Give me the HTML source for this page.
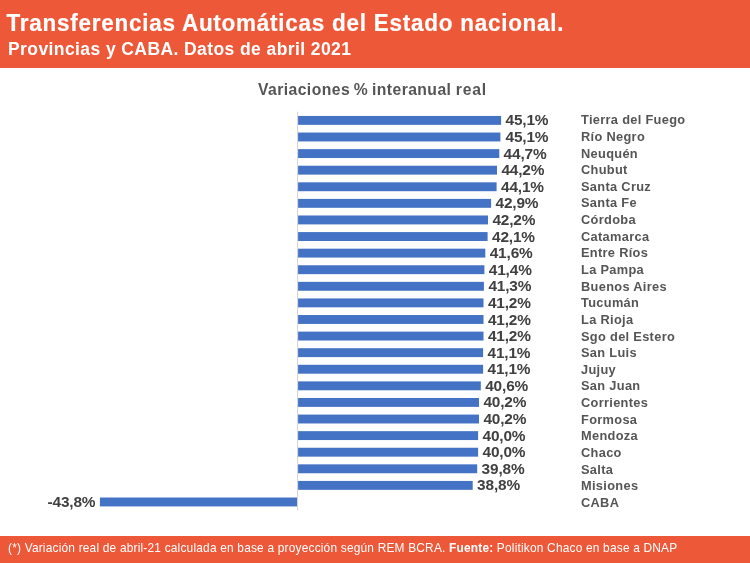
<!DOCTYPE html>
<html><head><meta charset="utf-8"><style>
html,body{margin:0;padding:0}
body{width:750px;height:563px;position:relative;overflow:hidden;background:#fff;font-family:"Liberation Sans",sans-serif}
.hd{position:absolute;left:0;top:0;width:750px;height:67.7px;background:#ed5839}
.t1{position:absolute;left:6.6px;top:9.8px;font-size:22.5px;font-weight:bold;color:#fff;white-space:nowrap;line-height:28px;letter-spacing:0.737px;-webkit-text-stroke:0.2px #fff;transform:scaleY(1.045);transform-origin:0 21.5px}
.t2{position:absolute;left:8px;top:38px;font-size:17.5px;font-weight:bold;color:#fff;white-space:nowrap;line-height:22px;letter-spacing:0.41px}
.ft{position:absolute;left:0;top:535.6px;width:750px;height:28px;background:#ed5839}
.ftt{position:absolute;left:8px;top:540.5px;font-size:11.9px;color:#fff;white-space:nowrap;line-height:14px;letter-spacing:0.2px}
.ct{position:absolute;left:258px;top:80.5px;font-size:15.7px;font-weight:bold;color:#555;line-height:18px;white-space:nowrap;letter-spacing:0.44px}
.bars{position:absolute;left:0;top:0}
.v{position:absolute;font-size:15.4px;letter-spacing:-0.15px;font-weight:bold;color:#404040;line-height:18px;white-space:nowrap}
.n{position:absolute;font-size:12.8px;font-weight:bold;color:#555;line-height:16px;white-space:nowrap;letter-spacing:0.32px}
.wrap{position:absolute;left:0;top:0;width:750px;height:563px;will-change:transform}
</style></head><body><div class="wrap">
<div class="hd"></div>
<div class="t1">Transferencias Automáticas del Estado nacional.</div>
<div class="t2">Provincias y CABA. Datos de abril 2021</div>
<div class="ct">Variaciones <span style="margin-left:-1.2px">%</span> <span style="margin-left:-0.9px">interanual</span> <span style="margin-left:-0.4px;letter-spacing:0.8px">real</span></div>
<svg class="bars" width="750" height="563" viewBox="0 0 750 563" fill="#4472c4"><rect x="297" y="111.7" width="1.1" height="398.8" fill="#d6d6d6"/><rect x="298.1" y="115.95" width="203.0" height="8.9"/><rect x="298.1" y="132.54" width="202.3" height="8.9"/><rect x="298.1" y="149.13" width="201.2" height="8.9"/><rect x="298.1" y="165.72" width="198.9" height="8.9"/><rect x="298.1" y="182.31" width="198.5" height="8.9"/><rect x="298.1" y="198.90" width="193.0" height="8.9"/><rect x="298.1" y="215.49" width="189.9" height="8.9"/><rect x="298.1" y="232.08" width="189.5" height="8.9"/><rect x="298.1" y="248.67" width="187.2" height="8.9"/><rect x="298.1" y="265.26" width="186.3" height="8.9"/><rect x="298.1" y="281.85" width="185.8" height="8.9"/><rect x="298.1" y="298.44" width="185.4" height="8.9"/><rect x="298.1" y="315.03" width="185.4" height="8.9"/><rect x="298.1" y="331.62" width="185.4" height="8.9"/><rect x="298.1" y="348.21" width="185.0" height="8.9"/><rect x="298.1" y="364.80" width="185.0" height="8.9"/><rect x="298.1" y="381.39" width="182.7" height="8.9"/><rect x="298.1" y="397.98" width="180.9" height="8.9"/><rect x="298.1" y="414.57" width="180.9" height="8.9"/><rect x="298.1" y="431.16" width="180.0" height="8.9"/><rect x="298.1" y="447.75" width="180.0" height="8.9"/><rect x="298.1" y="464.34" width="179.1" height="8.9"/><rect x="298.1" y="480.93" width="174.6" height="8.9"/><rect x="99.9" y="497.52" width="197.1" height="8.9"/></svg>
<div class="v" style="left:505.5px;top:111.4px">45,1%</div>
<div class="n" style="left:581px;top:112.2px">Tierra del Fuego</div>
<div class="v" style="left:505.5px;top:128.0px">45,1%</div>
<div class="n" style="left:581px;top:128.8px">Río Negro</div>
<div class="v" style="left:503.6px;top:144.6px">44,7%</div>
<div class="n" style="left:581px;top:145.5px">Neuquén</div>
<div class="v" style="left:501.4px;top:161.2px">44,2%</div>
<div class="n" style="left:581px;top:162.1px">Chubut</div>
<div class="v" style="left:501.0px;top:177.8px">44,1%</div>
<div class="n" style="left:581px;top:178.8px">Santa Cruz</div>
<div class="v" style="left:495.5px;top:194.4px">42,9%</div>
<div class="n" style="left:581px;top:195.4px">Santa Fe</div>
<div class="v" style="left:492.4px;top:210.9px">42,2%</div>
<div class="n" style="left:581px;top:212.0px">Córdoba</div>
<div class="v" style="left:492.0px;top:227.5px">42,1%</div>
<div class="n" style="left:581px;top:228.7px">Catamarca</div>
<div class="v" style="left:489.7px;top:244.1px">41,6%</div>
<div class="n" style="left:581px;top:245.3px">Entre Ríos</div>
<div class="v" style="left:488.8px;top:260.7px">41,4%</div>
<div class="n" style="left:581px;top:262.0px">La Pampa</div>
<div class="v" style="left:488.4px;top:277.3px">41,3%</div>
<div class="n" style="left:581px;top:278.6px">Buenos Aires</div>
<div class="v" style="left:487.9px;top:293.9px">41,2%</div>
<div class="n" style="left:581px;top:295.2px">Tucumán</div>
<div class="v" style="left:487.9px;top:310.5px">41,2%</div>
<div class="n" style="left:581px;top:311.9px">La Rioja</div>
<div class="v" style="left:487.9px;top:327.1px">41,2%</div>
<div class="n" style="left:581px;top:328.5px">Sgo del Estero</div>
<div class="v" style="left:487.5px;top:343.7px">41,1%</div>
<div class="n" style="left:581px;top:345.2px">San Luis</div>
<div class="v" style="left:487.5px;top:360.2px">41,1%</div>
<div class="n" style="left:581px;top:361.8px">Jujuy</div>
<div class="v" style="left:485.2px;top:376.8px">40,6%</div>
<div class="n" style="left:581px;top:378.4px">San Juan</div>
<div class="v" style="left:483.4px;top:393.4px">40,2%</div>
<div class="n" style="left:581px;top:395.1px">Corrientes</div>
<div class="v" style="left:483.4px;top:410.0px">40,2%</div>
<div class="n" style="left:581px;top:411.7px">Formosa</div>
<div class="v" style="left:482.5px;top:426.6px">40,0%</div>
<div class="n" style="left:581px;top:428.4px">Mendoza</div>
<div class="v" style="left:482.5px;top:443.2px">40,0%</div>
<div class="n" style="left:581px;top:445.0px">Chaco</div>
<div class="v" style="left:481.6px;top:459.8px">39,8%</div>
<div class="n" style="left:581px;top:461.6px">Salta</div>
<div class="v" style="left:477.1px;top:476.4px">38,8%</div>
<div class="n" style="left:581px;top:478.3px">Misiones</div>
<div class="v" style="left:39.4px;width:56px;text-align:right;top:493.0px">-43,8%</div>
<div class="n" style="left:581px;top:494.9px">CABA</div>
<div class="ft"></div>
<div class="ftt">(*) Variación real de abril-21 calculada en base a proyección según REM BCRA. <b>Fuente:</b> Politikon Chaco en base a DNAP</div>
</div></body></html>
